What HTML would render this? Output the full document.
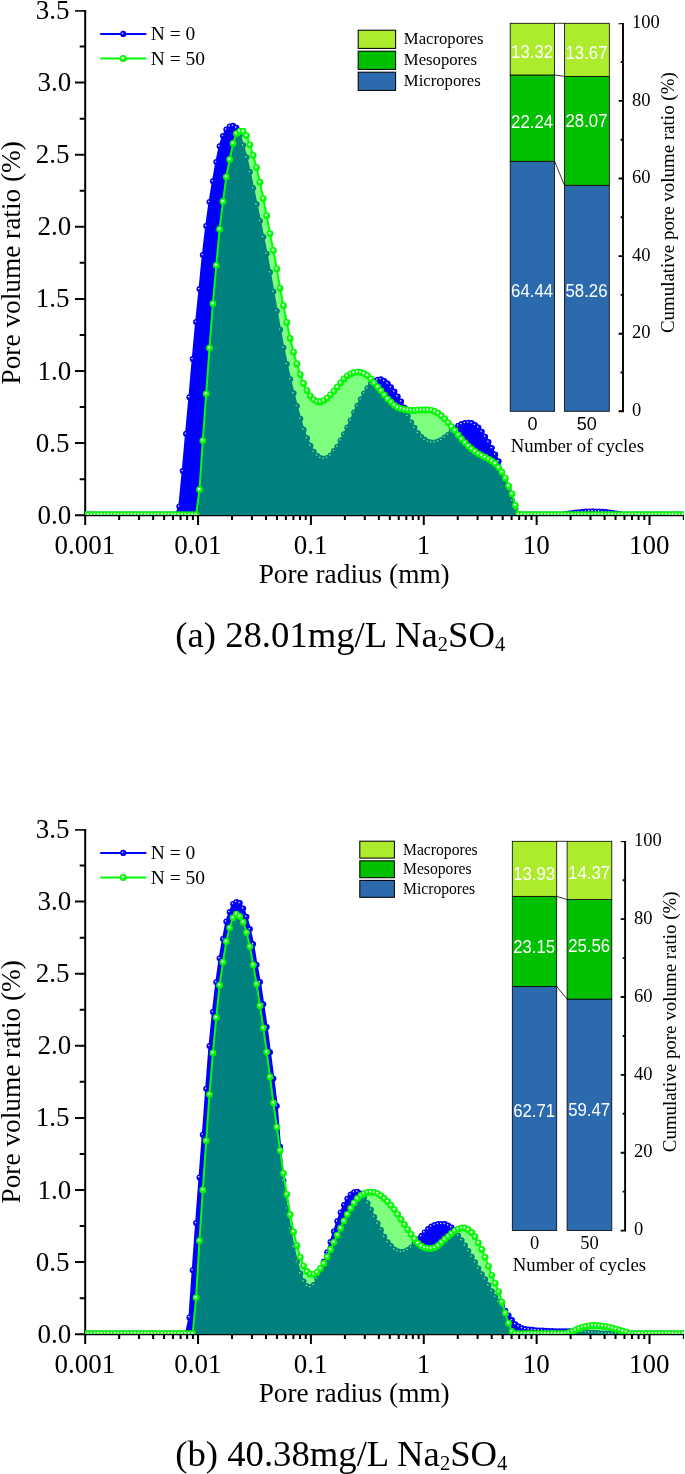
<!DOCTYPE html>
<html><head><meta charset="utf-8"><title>Pore volume ratio</title>
<style>
html,body{margin:0;padding:0;background:#fff;}
body{width:685px;height:1474px;overflow:hidden;font-family:"Liberation Serif",serif;}
svg{display:block;will-change:transform;}
</style></head><body>
<svg width="685" height="1474" viewBox="0 0 685 1474">
<defs>
<radialGradient id="gb" cx="0.5" cy="0.5" r="0.5" fx="0.35" fy="0.37">
<stop offset="0" stop-color="#ffffff"/><stop offset="0.1" stop-color="#d4d4ff"/><stop offset="0.32" stop-color="#2626ff"/><stop offset="0.46" stop-color="#0000ff"/><stop offset="1" stop-color="#0000f0"/>
</radialGradient>
<radialGradient id="gg" cx="0.5" cy="0.5" r="0.5" fx="0.41" fy="0.37">
<stop offset="0" stop-color="#ffffff"/><stop offset="0.18" stop-color="#eaffea"/><stop offset="0.44" stop-color="#38ff38"/><stop offset="0.6" stop-color="#00ff00"/><stop offset="1" stop-color="#00f200"/>
</radialGradient>
<clipPath id="clip0"><rect x="85" y="0" width="598.6" height="515.05"/></clipPath>
<clipPath id="clip1"><rect x="85" y="819" width="598.6" height="515.05"/></clipPath>
</defs>
<rect width="685" height="1474" fill="#fff"/>

<!-- chart a -->
<g stroke="#000" stroke-width="2.0" fill="none" stroke-linecap="butt">
<path d="M85.2 10.1 V515.2 H683.9"/>
<path d="M85.2 10.9h-10.2" stroke-width="1.6"/>
<path d="M683.4 515.2v4.8" stroke-width="1.1"/>
<path d="M85.2 515.20h-10.2M85.2 479.15h-5.5M85.2 443.10h-10.2M85.2 407.05h-5.5M85.2 371.00h-10.2M85.2 334.95h-5.5M85.2 298.90h-10.2M85.2 262.85h-5.5M85.2 226.80h-10.2M85.2 190.75h-5.5M85.2 154.70h-10.2M85.2 118.65h-5.5M85.2 82.60h-10.2M85.2 46.55h-5.5M85.20 515.2v9.7M119.17 515.2v4.8M139.05 515.2v4.8M153.15 515.2v4.8M164.09 515.2v4.8M173.02 515.2v4.8M180.58 515.2v4.8M187.12 515.2v4.8M192.90 515.2v4.8M198.06 515.2v9.7M232.03 515.2v4.8M251.91 515.2v4.8M266.01 515.2v4.8M276.95 515.2v4.8M285.88 515.2v4.8M293.44 515.2v4.8M299.98 515.2v4.8M305.76 515.2v4.8M310.92 515.2v9.7M344.89 515.2v4.8M364.77 515.2v4.8M378.87 515.2v4.8M389.81 515.2v4.8M398.74 515.2v4.8M406.30 515.2v4.8M412.84 515.2v4.8M418.62 515.2v4.8M423.78 515.2v9.7M457.75 515.2v4.8M477.63 515.2v4.8M491.73 515.2v4.8M502.67 515.2v4.8M511.60 515.2v4.8M519.16 515.2v4.8M525.70 515.2v4.8M531.48 515.2v4.8M536.64 515.2v9.7M570.61 515.2v4.8M590.49 515.2v4.8M604.59 515.2v4.8M615.53 515.2v4.8M624.46 515.2v4.8M632.02 515.2v4.8M638.56 515.2v4.8M644.34 515.2v4.8M649.50 515.2v9.7"/>
</g>
<g font-family="Liberation Serif, serif" font-size="27" fill="#000">
<text x="71.2" y="523.7" text-anchor="end">0.0</text>
<text x="69.5" y="451.6" text-anchor="end">0.5</text>
<text x="71.2" y="379.5" text-anchor="end">1.0</text>
<text x="69.5" y="307.4" text-anchor="end">1.5</text>
<text x="71.2" y="235.3" text-anchor="end">2.0</text>
<text x="69.5" y="163.2" text-anchor="end">2.5</text>
<text x="71.2" y="91.1" text-anchor="end">3.0</text>
<text x="69.5" y="19" text-anchor="end">3.5</text>
<text x="84.9" y="554" text-anchor="middle">0.001</text>
<text x="197.8" y="554" text-anchor="middle">0.01</text>
<text x="310.6" y="554" text-anchor="middle">0.1</text>
<text x="423.5" y="554" text-anchor="middle">1</text>
<text x="536.3" y="554" text-anchor="middle">10</text>
<text x="649.2" y="554" text-anchor="middle">100</text>
</g>
<g font-family="Liberation Serif, serif" font-size="27" fill="#000">
<text x="354.2" y="582.6" text-anchor="middle" font-size="27.3">Pore radius (mm)</text>
<text transform="translate(19.6 262.8) rotate(-90)" text-anchor="middle" font-size="27.3">Pore volume ratio (%)</text>
</g>
<g clip-path="url(#clip0)">
<polygon points="85.2,515.2 85.2,514.6 88.6,514.6 91.9,514.6 95.3,514.6 98.6,514.6 102,514.6 105.4,514.6 108.7,514.6 112.1,514.6 115.4,514.6 118.8,514.6 122.2,514.6 125.5,514.6 128.9,514.6 132.2,514.6 135.6,514.6 139,514.6 142.3,514.6 145.7,514.6 149.1,514.6 152.4,514.6 155.8,514.6 159.1,514.6 162.5,514.6 165.9,514.6 169.2,514.6 172.6,514.6 175.9,514.6 179.3,506.6 182.7,471 186,433.8 189.4,397.3 192.7,359.1 196.1,322 199.5,289.1 202.8,255.1 206.2,226 209.5,202 212.9,181.3 216.3,162.1 219.6,146.3 223,135.9 226.3,129.6 229.7,126.4 233.1,125.8 236.4,127.7 239.8,135.5 243.2,145.3 246.5,157.3 249.9,172.1 253.2,188.2 256.6,204.3 260,220.9 263.3,237.1 266.7,253.7 270,272.3 273.4,291.8 276.8,310.9 280.1,329.8 283.5,347.7 286.8,364 290.2,379.2 293.6,393.3 296.9,406.1 300.3,418.8 303.6,429.7 307,438.3 310.4,445.7 313.7,451.8 317.1,455.7 320.4,457.9 323.8,458.8 327.2,457.9 330.5,455.5 333.9,450.9 337.3,446.7 340.6,440.4 344,434.2 347.3,427.5 350.7,420.5 354.1,412.5 357.4,405.8 360.8,399.3 364.1,393.4 367.5,388.3 370.9,384 374.2,381.3 377.6,379.7 380.9,379.3 384.3,380.9 387.7,383.6 391,387.3 394.4,391.6 397.7,396.4 401.1,401.5 404.5,407.7 407.8,416.1 411.2,422.4 414.5,427.8 417.9,433.2 421.3,437.1 424.6,439.8 428,441.7 431.3,442.5 434.7,442.4 438.1,441.6 441.4,440 444.8,437.6 448.2,434.9 451.5,431.8 454.9,428.6 458.2,425.7 461.6,424 465,423.1 468.3,422.7 471.7,423.1 475,425 478.4,427.6 481.8,431.7 485.1,436.7 488.5,441.9 491.8,448.1 495.2,454.5 498.6,461.3 501.9,472.6 505.3,479.4 508.6,490.1 512,500.6 515.4,509.4 518.7,514.6 522.1,514.6 525.4,514.6 528.8,514.6 532.2,514.6 535.5,514.6 538.9,514.6 542.3,514.6 545.6,514.6 549,514.6 552.3,514.6 555.7,514.6 559.1,514.6 562.4,514.6 565.8,514.1 569.1,513.6 572.5,513.1 575.9,512.6 579.2,512.2 582.6,511.8 585.9,511.6 589.3,511.4 592.7,511.3 596,511.4 599.4,511.5 602.7,511.8 606.1,512.1 609.5,512.5 612.8,513 616.2,513.5 619.5,514 622.9,514.6 626.3,514.6 629.6,514.6 633,514.6 636.4,514.6 639.7,514.6 643.1,514.6 646.4,514.6 649.8,514.6 653.2,514.6 656.5,514.6 659.9,514.6 663.2,514.6 666.6,514.6 670,514.6 673.3,514.6 676.7,514.6 680,514.6 683.4,514.6 683.4,515.2" fill="#0000ff" fill-opacity="1"/>
<polyline points="85.2,514.6 88.6,514.6 91.9,514.6 95.3,514.6 98.6,514.6 102,514.6 105.4,514.6 108.7,514.6 112.1,514.6 115.4,514.6 118.8,514.6 122.2,514.6 125.5,514.6 128.9,514.6 132.2,514.6 135.6,514.6 139,514.6 142.3,514.6 145.7,514.6 149.1,514.6 152.4,514.6 155.8,514.6 159.1,514.6 162.5,514.6 165.9,514.6 169.2,514.6 172.6,514.6 175.9,514.6 179.3,506.6 182.7,471 186,433.8 189.4,397.3 192.7,359.1 196.1,322 199.5,289.1 202.8,255.1 206.2,226 209.5,202 212.9,181.3 216.3,162.1 219.6,146.3 223,135.9 226.3,129.6 229.7,126.4 233.1,125.8 236.4,127.7 239.8,135.5 243.2,145.3 246.5,157.3 249.9,172.1 253.2,188.2 256.6,204.3 260,220.9 263.3,237.1 266.7,253.7 270,272.3 273.4,291.8 276.8,310.9 280.1,329.8 283.5,347.7 286.8,364 290.2,379.2 293.6,393.3 296.9,406.1 300.3,418.8 303.6,429.7 307,438.3 310.4,445.7 313.7,451.8 317.1,455.7 320.4,457.9 323.8,458.8 327.2,457.9 330.5,455.5 333.9,450.9 337.3,446.7 340.6,440.4 344,434.2 347.3,427.5 350.7,420.5 354.1,412.5 357.4,405.8 360.8,399.3 364.1,393.4 367.5,388.3 370.9,384 374.2,381.3 377.6,379.7 380.9,379.3 384.3,380.9 387.7,383.6 391,387.3 394.4,391.6 397.7,396.4 401.1,401.5 404.5,407.7 407.8,416.1 411.2,422.4 414.5,427.8 417.9,433.2 421.3,437.1 424.6,439.8 428,441.7 431.3,442.5 434.7,442.4 438.1,441.6 441.4,440 444.8,437.6 448.2,434.9 451.5,431.8 454.9,428.6 458.2,425.7 461.6,424 465,423.1 468.3,422.7 471.7,423.1 475,425 478.4,427.6 481.8,431.7 485.1,436.7 488.5,441.9 491.8,448.1 495.2,454.5 498.6,461.3 501.9,472.6 505.3,479.4 508.6,490.1 512,500.6 515.4,509.4 518.7,514.6 522.1,514.6 525.4,514.6 528.8,514.6 532.2,514.6 535.5,514.6 538.9,514.6 542.3,514.6 545.6,514.6 549,514.6 552.3,514.6 555.7,514.6 559.1,514.6 562.4,514.6 565.8,514.1 569.1,513.6 572.5,513.1 575.9,512.6 579.2,512.2 582.6,511.8 585.9,511.6 589.3,511.4 592.7,511.3 596,511.4 599.4,511.5 602.7,511.8 606.1,512.1 609.5,512.5 612.8,513 616.2,513.5 619.5,514 622.9,514.6 626.3,514.6 629.6,514.6 633,514.6 636.4,514.6 639.7,514.6 643.1,514.6 646.4,514.6 649.8,514.6 653.2,514.6 656.5,514.6 659.9,514.6 663.2,514.6 666.6,514.6 670,514.6 673.3,514.6 676.7,514.6 680,514.6 683.4,514.6" fill="none" stroke="#0000ff" stroke-width="2.0" stroke-linejoin="round"/>
<g fill="url(#gb)">
<circle cx="85.2" cy="514.6" r="3.0"/><circle cx="88.6" cy="514.6" r="3.0"/><circle cx="91.9" cy="514.6" r="3.0"/><circle cx="95.3" cy="514.6" r="3.0"/><circle cx="98.6" cy="514.6" r="3.0"/><circle cx="102" cy="514.6" r="3.0"/><circle cx="105.4" cy="514.6" r="3.0"/><circle cx="108.7" cy="514.6" r="3.0"/><circle cx="112.1" cy="514.6" r="3.0"/><circle cx="115.4" cy="514.6" r="3.0"/><circle cx="118.8" cy="514.6" r="3.0"/><circle cx="122.2" cy="514.6" r="3.0"/><circle cx="125.5" cy="514.6" r="3.0"/><circle cx="128.9" cy="514.6" r="3.0"/><circle cx="132.2" cy="514.6" r="3.0"/><circle cx="135.6" cy="514.6" r="3.0"/><circle cx="139" cy="514.6" r="3.0"/><circle cx="142.3" cy="514.6" r="3.0"/><circle cx="145.7" cy="514.6" r="3.0"/><circle cx="149.1" cy="514.6" r="3.0"/><circle cx="152.4" cy="514.6" r="3.0"/><circle cx="155.8" cy="514.6" r="3.0"/><circle cx="159.1" cy="514.6" r="3.0"/><circle cx="162.5" cy="514.6" r="3.0"/><circle cx="165.9" cy="514.6" r="3.0"/><circle cx="169.2" cy="514.6" r="3.0"/><circle cx="172.6" cy="514.6" r="3.0"/><circle cx="175.9" cy="514.6" r="3.0"/><circle cx="179.3" cy="506.6" r="3.0"/><circle cx="182.7" cy="471" r="3.0"/><circle cx="186" cy="433.8" r="3.0"/><circle cx="189.4" cy="397.3" r="3.0"/><circle cx="192.7" cy="359.1" r="3.0"/><circle cx="196.1" cy="322" r="3.0"/><circle cx="199.5" cy="289.1" r="3.0"/><circle cx="202.8" cy="255.1" r="3.0"/><circle cx="206.2" cy="226" r="3.0"/><circle cx="209.5" cy="202" r="3.0"/><circle cx="212.9" cy="181.3" r="3.0"/><circle cx="216.3" cy="162.1" r="3.0"/><circle cx="219.6" cy="146.3" r="3.0"/><circle cx="223" cy="135.9" r="3.0"/><circle cx="226.3" cy="129.6" r="3.0"/><circle cx="229.7" cy="126.4" r="3.0"/><circle cx="233.1" cy="125.8" r="3.0"/><circle cx="236.4" cy="127.7" r="3.0"/><circle cx="239.8" cy="135.5" r="3.0"/><circle cx="243.2" cy="145.3" r="3.0"/><circle cx="246.5" cy="157.3" r="3.0"/><circle cx="249.9" cy="172.1" r="3.0"/><circle cx="253.2" cy="188.2" r="3.0"/><circle cx="256.6" cy="204.3" r="3.0"/><circle cx="260" cy="220.9" r="3.0"/><circle cx="263.3" cy="237.1" r="3.0"/><circle cx="266.7" cy="253.7" r="3.0"/><circle cx="270" cy="272.3" r="3.0"/><circle cx="273.4" cy="291.8" r="3.0"/><circle cx="276.8" cy="310.9" r="3.0"/><circle cx="280.1" cy="329.8" r="3.0"/><circle cx="283.5" cy="347.7" r="3.0"/><circle cx="286.8" cy="364" r="3.0"/><circle cx="290.2" cy="379.2" r="3.0"/><circle cx="293.6" cy="393.3" r="3.0"/><circle cx="296.9" cy="406.1" r="3.0"/><circle cx="300.3" cy="418.8" r="3.0"/><circle cx="303.6" cy="429.7" r="3.0"/><circle cx="307" cy="438.3" r="3.0"/><circle cx="310.4" cy="445.7" r="3.0"/><circle cx="313.7" cy="451.8" r="3.0"/><circle cx="317.1" cy="455.7" r="3.0"/><circle cx="320.4" cy="457.9" r="3.0"/><circle cx="323.8" cy="458.8" r="3.0"/><circle cx="327.2" cy="457.9" r="3.0"/><circle cx="330.5" cy="455.5" r="3.0"/><circle cx="333.9" cy="450.9" r="3.0"/><circle cx="337.3" cy="446.7" r="3.0"/><circle cx="340.6" cy="440.4" r="3.0"/><circle cx="344" cy="434.2" r="3.0"/><circle cx="347.3" cy="427.5" r="3.0"/><circle cx="350.7" cy="420.5" r="3.0"/><circle cx="354.1" cy="412.5" r="3.0"/><circle cx="357.4" cy="405.8" r="3.0"/><circle cx="360.8" cy="399.3" r="3.0"/><circle cx="364.1" cy="393.4" r="3.0"/><circle cx="367.5" cy="388.3" r="3.0"/><circle cx="370.9" cy="384" r="3.0"/><circle cx="374.2" cy="381.3" r="3.0"/><circle cx="377.6" cy="379.7" r="3.0"/><circle cx="380.9" cy="379.3" r="3.0"/><circle cx="384.3" cy="380.9" r="3.0"/><circle cx="387.7" cy="383.6" r="3.0"/><circle cx="391" cy="387.3" r="3.0"/><circle cx="394.4" cy="391.6" r="3.0"/><circle cx="397.7" cy="396.4" r="3.0"/><circle cx="401.1" cy="401.5" r="3.0"/><circle cx="404.5" cy="407.7" r="3.0"/><circle cx="407.8" cy="416.1" r="3.0"/><circle cx="411.2" cy="422.4" r="3.0"/><circle cx="414.5" cy="427.8" r="3.0"/><circle cx="417.9" cy="433.2" r="3.0"/><circle cx="421.3" cy="437.1" r="3.0"/><circle cx="424.6" cy="439.8" r="3.0"/><circle cx="428" cy="441.7" r="3.0"/><circle cx="431.3" cy="442.5" r="3.0"/><circle cx="434.7" cy="442.4" r="3.0"/><circle cx="438.1" cy="441.6" r="3.0"/><circle cx="441.4" cy="440" r="3.0"/><circle cx="444.8" cy="437.6" r="3.0"/><circle cx="448.2" cy="434.9" r="3.0"/><circle cx="451.5" cy="431.8" r="3.0"/><circle cx="454.9" cy="428.6" r="3.0"/><circle cx="458.2" cy="425.7" r="3.0"/><circle cx="461.6" cy="424" r="3.0"/><circle cx="465" cy="423.1" r="3.0"/><circle cx="468.3" cy="422.7" r="3.0"/><circle cx="471.7" cy="423.1" r="3.0"/><circle cx="475" cy="425" r="3.0"/><circle cx="478.4" cy="427.6" r="3.0"/><circle cx="481.8" cy="431.7" r="3.0"/><circle cx="485.1" cy="436.7" r="3.0"/><circle cx="488.5" cy="441.9" r="3.0"/><circle cx="491.8" cy="448.1" r="3.0"/><circle cx="495.2" cy="454.5" r="3.0"/><circle cx="498.6" cy="461.3" r="3.0"/><circle cx="501.9" cy="472.6" r="3.0"/><circle cx="505.3" cy="479.4" r="3.0"/><circle cx="508.6" cy="490.1" r="3.0"/><circle cx="512" cy="500.6" r="3.0"/><circle cx="515.4" cy="509.4" r="3.0"/><circle cx="518.7" cy="514.6" r="3.0"/><circle cx="522.1" cy="514.6" r="3.0"/><circle cx="525.4" cy="514.6" r="3.0"/><circle cx="528.8" cy="514.6" r="3.0"/><circle cx="532.2" cy="514.6" r="3.0"/><circle cx="535.5" cy="514.6" r="3.0"/><circle cx="538.9" cy="514.6" r="3.0"/><circle cx="542.3" cy="514.6" r="3.0"/><circle cx="545.6" cy="514.6" r="3.0"/><circle cx="549" cy="514.6" r="3.0"/><circle cx="552.3" cy="514.6" r="3.0"/><circle cx="555.7" cy="514.6" r="3.0"/><circle cx="559.1" cy="514.6" r="3.0"/><circle cx="562.4" cy="514.6" r="3.0"/><circle cx="565.8" cy="514.1" r="3.0"/><circle cx="569.1" cy="513.6" r="3.0"/><circle cx="572.5" cy="513.1" r="3.0"/><circle cx="575.9" cy="512.6" r="3.0"/><circle cx="579.2" cy="512.2" r="3.0"/><circle cx="582.6" cy="511.8" r="3.0"/><circle cx="585.9" cy="511.6" r="3.0"/><circle cx="589.3" cy="511.4" r="3.0"/><circle cx="592.7" cy="511.3" r="3.0"/><circle cx="596" cy="511.4" r="3.0"/><circle cx="599.4" cy="511.5" r="3.0"/><circle cx="602.7" cy="511.8" r="3.0"/><circle cx="606.1" cy="512.1" r="3.0"/><circle cx="609.5" cy="512.5" r="3.0"/><circle cx="612.8" cy="513" r="3.0"/><circle cx="616.2" cy="513.5" r="3.0"/><circle cx="619.5" cy="514" r="3.0"/><circle cx="622.9" cy="514.6" r="3.0"/><circle cx="626.3" cy="514.6" r="3.0"/><circle cx="629.6" cy="514.6" r="3.0"/><circle cx="633" cy="514.6" r="3.0"/><circle cx="636.4" cy="514.6" r="3.0"/><circle cx="639.7" cy="514.6" r="3.0"/><circle cx="643.1" cy="514.6" r="3.0"/><circle cx="646.4" cy="514.6" r="3.0"/><circle cx="649.8" cy="514.6" r="3.0"/><circle cx="653.2" cy="514.6" r="3.0"/><circle cx="656.5" cy="514.6" r="3.0"/><circle cx="659.9" cy="514.6" r="3.0"/><circle cx="663.2" cy="514.6" r="3.0"/><circle cx="666.6" cy="514.6" r="3.0"/><circle cx="670" cy="514.6" r="3.0"/><circle cx="673.3" cy="514.6" r="3.0"/><circle cx="676.7" cy="514.6" r="3.0"/><circle cx="680" cy="514.6" r="3.0"/><circle cx="683.4" cy="514.6" r="3.0"/>
</g>
<polygon points="85.2,515.2 85.2,514.6 88.6,514.6 91.9,514.6 95.3,514.6 98.6,514.6 102,514.6 105.4,514.6 108.7,514.6 112.1,514.6 115.4,514.6 118.8,514.6 122.2,514.6 125.5,514.6 128.9,514.6 132.2,514.6 135.6,514.6 139,514.6 142.3,514.6 145.7,514.6 149.1,514.6 152.4,514.6 155.8,514.6 159.1,514.6 162.5,514.6 165.9,514.6 169.2,514.6 172.6,514.6 175.9,514.6 179.3,514.6 182.7,514.6 186,514.6 189.4,514.6 192.7,514.6 196.1,514.6 199.5,489.6 202.8,440.6 206.2,393.8 209.5,348 212.9,303.7 216.3,265.3 219.6,229.2 223,201.5 226.3,176.8 229.7,159.5 233.1,143.4 236.4,133.6 239.8,131.3 243.2,131.5 246.5,135.6 249.9,144.8 253.2,155.5 256.6,167.6 260,182.2 263.3,198.6 266.7,215.7 270,233.6 273.4,250.5 276.8,268.9 280.1,288.3 283.5,305.6 286.8,322.4 290.2,338.5 293.6,352.2 296.9,363.9 300.3,374.6 303.6,383.5 307,390.6 310.4,396.1 313.7,399.6 317.1,401.5 320.4,402 323.8,400.6 327.2,398.1 330.5,394.8 333.9,391.1 337.3,387.1 340.6,382.9 344,379 347.3,375.9 350.7,373.9 354.1,372.7 357.4,372.1 360.8,372.5 364.1,373.6 367.5,375.6 370.9,378.9 374.2,383 377.6,386.8 380.9,390.7 384.3,395 387.7,398.9 391,402.2 394.4,405.3 397.7,407.4 401.1,408.7 404.5,409.5 407.8,410.2 411.2,410.5 414.5,410.4 417.9,410.1 421.3,410 424.6,410 428,410 431.3,410.3 434.7,411.4 438.1,413.1 441.4,415.9 444.8,418.9 448.2,422.8 451.5,426.6 454.9,430.5 458.2,434.9 461.6,439 465,442.6 468.3,446.1 471.7,449 475,451.5 478.4,453.8 481.8,455.6 485.1,457.2 488.5,459.1 491.8,461 495.2,463.5 498.6,467.6 501.9,472.2 505.3,478.1 508.6,486 512,493.9 515.4,505.3 518.7,514.4 522.1,514.6 525.4,514.6 528.8,514.6 532.2,514.6 535.5,514.6 538.9,514.6 542.3,514.6 545.6,514.6 549,514.6 552.3,514.6 555.7,514.6 559.1,514.6 562.4,514.6 565.8,514.6 569.1,514.6 572.5,514.6 575.9,514.6 579.2,514.6 582.6,514.6 585.9,514.6 589.3,514.6 592.7,514.6 596,514.6 599.4,514.6 602.7,514.6 606.1,514.6 609.5,514.6 612.8,514.6 616.2,514.6 619.5,514.6 622.9,514.6 626.3,514.6 629.6,514.6 633,514.6 636.4,514.6 639.7,514.6 643.1,514.6 646.4,514.6 649.8,514.6 653.2,514.6 656.5,514.6 659.9,514.6 663.2,514.6 666.6,514.6 670,514.6 673.3,514.6 676.7,514.6 680,514.6 683.4,514.6 683.4,515.2" fill="#00ff00" fill-opacity="0.5"/>
<polyline points="85.2,514.6 88.6,514.6 91.9,514.6 95.3,514.6 98.6,514.6 102,514.6 105.4,514.6 108.7,514.6 112.1,514.6 115.4,514.6 118.8,514.6 122.2,514.6 125.5,514.6 128.9,514.6 132.2,514.6 135.6,514.6 139,514.6 142.3,514.6 145.7,514.6 149.1,514.6 152.4,514.6 155.8,514.6 159.1,514.6 162.5,514.6 165.9,514.6 169.2,514.6 172.6,514.6 175.9,514.6 179.3,514.6 182.7,514.6 186,514.6 189.4,514.6 192.7,514.6 196.1,514.6 199.5,489.6 202.8,440.6 206.2,393.8 209.5,348 212.9,303.7 216.3,265.3 219.6,229.2 223,201.5 226.3,176.8 229.7,159.5 233.1,143.4 236.4,133.6 239.8,131.3 243.2,131.5 246.5,135.6 249.9,144.8 253.2,155.5 256.6,167.6 260,182.2 263.3,198.6 266.7,215.7 270,233.6 273.4,250.5 276.8,268.9 280.1,288.3 283.5,305.6 286.8,322.4 290.2,338.5 293.6,352.2 296.9,363.9 300.3,374.6 303.6,383.5 307,390.6 310.4,396.1 313.7,399.6 317.1,401.5 320.4,402 323.8,400.6 327.2,398.1 330.5,394.8 333.9,391.1 337.3,387.1 340.6,382.9 344,379 347.3,375.9 350.7,373.9 354.1,372.7 357.4,372.1 360.8,372.5 364.1,373.6 367.5,375.6 370.9,378.9 374.2,383 377.6,386.8 380.9,390.7 384.3,395 387.7,398.9 391,402.2 394.4,405.3 397.7,407.4 401.1,408.7 404.5,409.5 407.8,410.2 411.2,410.5 414.5,410.4 417.9,410.1 421.3,410 424.6,410 428,410 431.3,410.3 434.7,411.4 438.1,413.1 441.4,415.9 444.8,418.9 448.2,422.8 451.5,426.6 454.9,430.5 458.2,434.9 461.6,439 465,442.6 468.3,446.1 471.7,449 475,451.5 478.4,453.8 481.8,455.6 485.1,457.2 488.5,459.1 491.8,461 495.2,463.5 498.6,467.6 501.9,472.2 505.3,478.1 508.6,486 512,493.9 515.4,505.3 518.7,514.4 522.1,514.6 525.4,514.6 528.8,514.6 532.2,514.6 535.5,514.6 538.9,514.6 542.3,514.6 545.6,514.6 549,514.6 552.3,514.6 555.7,514.6 559.1,514.6 562.4,514.6 565.8,514.6 569.1,514.6 572.5,514.6 575.9,514.6 579.2,514.6 582.6,514.6 585.9,514.6 589.3,514.6 592.7,514.6 596,514.6 599.4,514.6 602.7,514.6 606.1,514.6 609.5,514.6 612.8,514.6 616.2,514.6 619.5,514.6 622.9,514.6 626.3,514.6 629.6,514.6 633,514.6 636.4,514.6 639.7,514.6 643.1,514.6 646.4,514.6 649.8,514.6 653.2,514.6 656.5,514.6 659.9,514.6 663.2,514.6 666.6,514.6 670,514.6 673.3,514.6 676.7,514.6 680,514.6 683.4,514.6" fill="none" stroke="#00ff00" stroke-width="2.0" stroke-linejoin="round"/>
<g fill="url(#gg)">
<circle cx="85.2" cy="514.6" r="3.4"/><circle cx="88.6" cy="514.6" r="3.4"/><circle cx="91.9" cy="514.6" r="3.4"/><circle cx="95.3" cy="514.6" r="3.4"/><circle cx="98.6" cy="514.6" r="3.4"/><circle cx="102" cy="514.6" r="3.4"/><circle cx="105.4" cy="514.6" r="3.4"/><circle cx="108.7" cy="514.6" r="3.4"/><circle cx="112.1" cy="514.6" r="3.4"/><circle cx="115.4" cy="514.6" r="3.4"/><circle cx="118.8" cy="514.6" r="3.4"/><circle cx="122.2" cy="514.6" r="3.4"/><circle cx="125.5" cy="514.6" r="3.4"/><circle cx="128.9" cy="514.6" r="3.4"/><circle cx="132.2" cy="514.6" r="3.4"/><circle cx="135.6" cy="514.6" r="3.4"/><circle cx="139" cy="514.6" r="3.4"/><circle cx="142.3" cy="514.6" r="3.4"/><circle cx="145.7" cy="514.6" r="3.4"/><circle cx="149.1" cy="514.6" r="3.4"/><circle cx="152.4" cy="514.6" r="3.4"/><circle cx="155.8" cy="514.6" r="3.4"/><circle cx="159.1" cy="514.6" r="3.4"/><circle cx="162.5" cy="514.6" r="3.4"/><circle cx="165.9" cy="514.6" r="3.4"/><circle cx="169.2" cy="514.6" r="3.4"/><circle cx="172.6" cy="514.6" r="3.4"/><circle cx="175.9" cy="514.6" r="3.4"/><circle cx="179.3" cy="514.6" r="3.4"/><circle cx="182.7" cy="514.6" r="3.4"/><circle cx="186" cy="514.6" r="3.4"/><circle cx="189.4" cy="514.6" r="3.4"/><circle cx="192.7" cy="514.6" r="3.4"/><circle cx="196.1" cy="514.6" r="3.4"/><circle cx="199.5" cy="489.6" r="3.4"/><circle cx="202.8" cy="440.6" r="3.4"/><circle cx="206.2" cy="393.8" r="3.4"/><circle cx="209.5" cy="348" r="3.4"/><circle cx="212.9" cy="303.7" r="3.4"/><circle cx="216.3" cy="265.3" r="3.4"/><circle cx="219.6" cy="229.2" r="3.4"/><circle cx="223" cy="201.5" r="3.4"/><circle cx="226.3" cy="176.8" r="3.4"/><circle cx="229.7" cy="159.5" r="3.4"/><circle cx="233.1" cy="143.4" r="3.4"/><circle cx="236.4" cy="133.6" r="3.4"/><circle cx="239.8" cy="131.3" r="3.4"/><circle cx="243.2" cy="131.5" r="3.4"/><circle cx="246.5" cy="135.6" r="3.4"/><circle cx="249.9" cy="144.8" r="3.4"/><circle cx="253.2" cy="155.5" r="3.4"/><circle cx="256.6" cy="167.6" r="3.4"/><circle cx="260" cy="182.2" r="3.4"/><circle cx="263.3" cy="198.6" r="3.4"/><circle cx="266.7" cy="215.7" r="3.4"/><circle cx="270" cy="233.6" r="3.4"/><circle cx="273.4" cy="250.5" r="3.4"/><circle cx="276.8" cy="268.9" r="3.4"/><circle cx="280.1" cy="288.3" r="3.4"/><circle cx="283.5" cy="305.6" r="3.4"/><circle cx="286.8" cy="322.4" r="3.4"/><circle cx="290.2" cy="338.5" r="3.4"/><circle cx="293.6" cy="352.2" r="3.4"/><circle cx="296.9" cy="363.9" r="3.4"/><circle cx="300.3" cy="374.6" r="3.4"/><circle cx="303.6" cy="383.5" r="3.4"/><circle cx="307" cy="390.6" r="3.4"/><circle cx="310.4" cy="396.1" r="3.4"/><circle cx="313.7" cy="399.6" r="3.4"/><circle cx="317.1" cy="401.5" r="3.4"/><circle cx="320.4" cy="402" r="3.4"/><circle cx="323.8" cy="400.6" r="3.4"/><circle cx="327.2" cy="398.1" r="3.4"/><circle cx="330.5" cy="394.8" r="3.4"/><circle cx="333.9" cy="391.1" r="3.4"/><circle cx="337.3" cy="387.1" r="3.4"/><circle cx="340.6" cy="382.9" r="3.4"/><circle cx="344" cy="379" r="3.4"/><circle cx="347.3" cy="375.9" r="3.4"/><circle cx="350.7" cy="373.9" r="3.4"/><circle cx="354.1" cy="372.7" r="3.4"/><circle cx="357.4" cy="372.1" r="3.4"/><circle cx="360.8" cy="372.5" r="3.4"/><circle cx="364.1" cy="373.6" r="3.4"/><circle cx="367.5" cy="375.6" r="3.4"/><circle cx="370.9" cy="378.9" r="3.4"/><circle cx="374.2" cy="383" r="3.4"/><circle cx="377.6" cy="386.8" r="3.4"/><circle cx="380.9" cy="390.7" r="3.4"/><circle cx="384.3" cy="395" r="3.4"/><circle cx="387.7" cy="398.9" r="3.4"/><circle cx="391" cy="402.2" r="3.4"/><circle cx="394.4" cy="405.3" r="3.4"/><circle cx="397.7" cy="407.4" r="3.4"/><circle cx="401.1" cy="408.7" r="3.4"/><circle cx="404.5" cy="409.5" r="3.4"/><circle cx="407.8" cy="410.2" r="3.4"/><circle cx="411.2" cy="410.5" r="3.4"/><circle cx="414.5" cy="410.4" r="3.4"/><circle cx="417.9" cy="410.1" r="3.4"/><circle cx="421.3" cy="410" r="3.4"/><circle cx="424.6" cy="410" r="3.4"/><circle cx="428" cy="410" r="3.4"/><circle cx="431.3" cy="410.3" r="3.4"/><circle cx="434.7" cy="411.4" r="3.4"/><circle cx="438.1" cy="413.1" r="3.4"/><circle cx="441.4" cy="415.9" r="3.4"/><circle cx="444.8" cy="418.9" r="3.4"/><circle cx="448.2" cy="422.8" r="3.4"/><circle cx="451.5" cy="426.6" r="3.4"/><circle cx="454.9" cy="430.5" r="3.4"/><circle cx="458.2" cy="434.9" r="3.4"/><circle cx="461.6" cy="439" r="3.4"/><circle cx="465" cy="442.6" r="3.4"/><circle cx="468.3" cy="446.1" r="3.4"/><circle cx="471.7" cy="449" r="3.4"/><circle cx="475" cy="451.5" r="3.4"/><circle cx="478.4" cy="453.8" r="3.4"/><circle cx="481.8" cy="455.6" r="3.4"/><circle cx="485.1" cy="457.2" r="3.4"/><circle cx="488.5" cy="459.1" r="3.4"/><circle cx="491.8" cy="461" r="3.4"/><circle cx="495.2" cy="463.5" r="3.4"/><circle cx="498.6" cy="467.6" r="3.4"/><circle cx="501.9" cy="472.2" r="3.4"/><circle cx="505.3" cy="478.1" r="3.4"/><circle cx="508.6" cy="486" r="3.4"/><circle cx="512" cy="493.9" r="3.4"/><circle cx="515.4" cy="505.3" r="3.4"/><circle cx="518.7" cy="514.4" r="3.4"/><circle cx="522.1" cy="514.6" r="3.4"/><circle cx="525.4" cy="514.6" r="3.4"/><circle cx="528.8" cy="514.6" r="3.4"/><circle cx="532.2" cy="514.6" r="3.4"/><circle cx="535.5" cy="514.6" r="3.4"/><circle cx="538.9" cy="514.6" r="3.4"/><circle cx="542.3" cy="514.6" r="3.4"/><circle cx="545.6" cy="514.6" r="3.4"/><circle cx="549" cy="514.6" r="3.4"/><circle cx="552.3" cy="514.6" r="3.4"/><circle cx="555.7" cy="514.6" r="3.4"/><circle cx="559.1" cy="514.6" r="3.4"/><circle cx="562.4" cy="514.6" r="3.4"/><circle cx="565.8" cy="514.6" r="3.4"/><circle cx="569.1" cy="514.6" r="3.4"/><circle cx="572.5" cy="514.6" r="3.4"/><circle cx="575.9" cy="514.6" r="3.4"/><circle cx="579.2" cy="514.6" r="3.4"/><circle cx="582.6" cy="514.6" r="3.4"/><circle cx="585.9" cy="514.6" r="3.4"/><circle cx="589.3" cy="514.6" r="3.4"/><circle cx="592.7" cy="514.6" r="3.4"/><circle cx="596" cy="514.6" r="3.4"/><circle cx="599.4" cy="514.6" r="3.4"/><circle cx="602.7" cy="514.6" r="3.4"/><circle cx="606.1" cy="514.6" r="3.4"/><circle cx="609.5" cy="514.6" r="3.4"/><circle cx="612.8" cy="514.6" r="3.4"/><circle cx="616.2" cy="514.6" r="3.4"/><circle cx="619.5" cy="514.6" r="3.4"/><circle cx="622.9" cy="514.6" r="3.4"/><circle cx="626.3" cy="514.6" r="3.4"/><circle cx="629.6" cy="514.6" r="3.4"/><circle cx="633" cy="514.6" r="3.4"/><circle cx="636.4" cy="514.6" r="3.4"/><circle cx="639.7" cy="514.6" r="3.4"/><circle cx="643.1" cy="514.6" r="3.4"/><circle cx="646.4" cy="514.6" r="3.4"/><circle cx="649.8" cy="514.6" r="3.4"/><circle cx="653.2" cy="514.6" r="3.4"/><circle cx="656.5" cy="514.6" r="3.4"/><circle cx="659.9" cy="514.6" r="3.4"/><circle cx="663.2" cy="514.6" r="3.4"/><circle cx="666.6" cy="514.6" r="3.4"/><circle cx="670" cy="514.6" r="3.4"/><circle cx="673.3" cy="514.6" r="3.4"/><circle cx="676.7" cy="514.6" r="3.4"/><circle cx="680" cy="514.6" r="3.4"/><circle cx="683.4" cy="514.6" r="3.4"/>
</g>
</g>
<path d="M100.2 33.9 H146.4" stroke="#0000ff" stroke-width="2.0"/>
<circle cx="123.2" cy="33.9" r="3.0999999999999996" fill="url(#gb)"/>
<text x="150.7" y="40.3" font-family="Liberation Serif, serif" font-size="19.5">N = 0</text>
<path d="M100.2 58.5 H146.4" stroke="#00ff00" stroke-width="2.0"/>
<circle cx="123.2" cy="58.5" r="3.5" fill="url(#gg)"/>
<text x="150.7" y="64.9" font-family="Liberation Serif, serif" font-size="19.5">N = 50</text>
<rect x="358.2" y="30.2" width="37.4" height="18.2" fill="#adeb2d" stroke="#000" stroke-width="1.05"/>
<text x="403.8" y="44.4" font-family="Liberation Serif, serif" font-size="16.7">Macropores</text>
<rect x="358.2" y="51.2" width="37.4" height="18.2" fill="#00c000" stroke="#000" stroke-width="1.05"/>
<text x="403.8" y="65.4" font-family="Liberation Serif, serif" font-size="16.7">Mesopores</text>
<rect x="358.2" y="72.2" width="37.4" height="18.2" fill="#2b6aad" stroke="#000" stroke-width="1.05"/>
<text x="403.8" y="86.4" font-family="Liberation Serif, serif" font-size="16.7">Micropores</text>
<rect x="510.2" y="161.27" width="44.4" height="250.03" fill="#2b6aad" stroke="#000" stroke-width="0.8"/>
<rect x="510.2" y="74.98" width="44.4" height="86.29" fill="#00c000" stroke="#000" stroke-width="0.8"/>
<rect x="510.2" y="23.30" width="44.4" height="51.68" fill="#adeb2d" stroke="#000" stroke-width="0.8"/>
<rect x="564.4" y="185.25" width="44.9" height="226.05" fill="#2b6aad" stroke="#000" stroke-width="0.8"/>
<rect x="564.4" y="76.34" width="44.9" height="108.91" fill="#00c000" stroke="#000" stroke-width="0.8"/>
<rect x="564.4" y="23.30" width="44.9" height="53.04" fill="#adeb2d" stroke="#000" stroke-width="0.8"/>
<path d="M554.6 161.27 L564.4 185.25" stroke="#000" stroke-width="0.8" fill="none"/>
<path d="M554.6 74.98 L564.4 76.34" stroke="#000" stroke-width="0.8" fill="none"/>
<path d="M554.6 23.30 L564.4 23.30" stroke="#000" stroke-width="0.8" fill="none"/>
<g font-family="Liberation Sans, sans-serif" font-size="18" fill="#fff" text-anchor="middle">
<text x="532.1" y="296.7" textLength="42" lengthAdjust="spacingAndGlyphs">64.44</text>
<text x="532.1" y="127.5" textLength="42" lengthAdjust="spacingAndGlyphs">22.24</text>
<text x="532.1" y="57.8" textLength="42" lengthAdjust="spacingAndGlyphs">13.32</text>
<text x="586.5" y="296.7" textLength="42" lengthAdjust="spacingAndGlyphs">58.26</text>
<text x="586.5" y="126.6" textLength="42" lengthAdjust="spacingAndGlyphs">28.07</text>
<text x="586.5" y="58.7" textLength="42" lengthAdjust="spacingAndGlyphs">13.67</text>
</g>
<g stroke="#000" stroke-width="1.9" fill="none">
<path d="M623 23.7h-4.4" stroke-width="1.1"/>
<path d="M623 23.1 V412.2M623 411.30h-4.4M623 372.50h-2.4M623 333.70h-4.4M623 294.90h-2.4M623 256.10h-4.4M623 217.30h-2.4M623 178.50h-4.4M623 139.70h-2.4M623 100.90h-4.4M623 62.10h-2.4"/>
</g>
<g font-family="Liberation Serif, serif" font-size="18.5" fill="#000">
<text x="631.9" y="415.9">0</text>
<text x="631.9" y="338.3">20</text>
<text x="631.9" y="260.7">40</text>
<text x="631.9" y="183.1">60</text>
<text x="631.9" y="105.5">80</text>
<text x="631.9" y="27.9">100</text>
</g>
<g font-family="Liberation Sans, sans-serif" font-size="18" fill="#000" text-anchor="middle">
<text x="532.4" y="429.5">0</text>
<text x="586.8" y="429.5">50</text>
</g>
<text x="577.3" y="451.8" font-family="Liberation Serif, serif" font-size="18.75" text-anchor="middle">Number of cycles</text>
<text transform="translate(673.9 202.7) rotate(-90)" font-family="Liberation Serif, serif" font-size="18.95" text-anchor="middle">Cumulative pore volume ratio (%)</text>
<text x="175.3" y="646.9" font-family="Liberation Serif, serif" font-size="36.7" fill="#000">(a) 28.01mg/L Na<tspan font-size="20.5" dy="3.8">2</tspan><tspan dy="-3.8">SO</tspan><tspan font-size="20.5" dy="3.8">4</tspan></text>

<!-- chart b -->
<g stroke="#000" stroke-width="2.0" fill="none" stroke-linecap="butt">
<path d="M85.2 829.1 V1334.2 H683.9"/>
<path d="M85.2 829.9h-10.2" stroke-width="1.6"/>
<path d="M683.4 1334.2v4.8" stroke-width="1.1"/>
<path d="M85.2 1334.20h-10.2M85.2 1298.15h-5.5M85.2 1262.10h-10.2M85.2 1226.05h-5.5M85.2 1190.00h-10.2M85.2 1153.95h-5.5M85.2 1117.90h-10.2M85.2 1081.85h-5.5M85.2 1045.80h-10.2M85.2 1009.75h-5.5M85.2 973.70h-10.2M85.2 937.65h-5.5M85.2 901.60h-10.2M85.2 865.55h-5.5M85.20 1334.2v9.7M119.17 1334.2v4.8M139.05 1334.2v4.8M153.15 1334.2v4.8M164.09 1334.2v4.8M173.02 1334.2v4.8M180.58 1334.2v4.8M187.12 1334.2v4.8M192.90 1334.2v4.8M198.06 1334.2v9.7M232.03 1334.2v4.8M251.91 1334.2v4.8M266.01 1334.2v4.8M276.95 1334.2v4.8M285.88 1334.2v4.8M293.44 1334.2v4.8M299.98 1334.2v4.8M305.76 1334.2v4.8M310.92 1334.2v9.7M344.89 1334.2v4.8M364.77 1334.2v4.8M378.87 1334.2v4.8M389.81 1334.2v4.8M398.74 1334.2v4.8M406.30 1334.2v4.8M412.84 1334.2v4.8M418.62 1334.2v4.8M423.78 1334.2v9.7M457.75 1334.2v4.8M477.63 1334.2v4.8M491.73 1334.2v4.8M502.67 1334.2v4.8M511.60 1334.2v4.8M519.16 1334.2v4.8M525.70 1334.2v4.8M531.48 1334.2v4.8M536.64 1334.2v9.7M570.61 1334.2v4.8M590.49 1334.2v4.8M604.59 1334.2v4.8M615.53 1334.2v4.8M624.46 1334.2v4.8M632.02 1334.2v4.8M638.56 1334.2v4.8M644.34 1334.2v4.8M649.50 1334.2v9.7"/>
</g>
<g font-family="Liberation Serif, serif" font-size="27" fill="#000">
<text x="71.2" y="1342.7" text-anchor="end">0.0</text>
<text x="69.5" y="1270.6" text-anchor="end">0.5</text>
<text x="71.2" y="1198.5" text-anchor="end">1.0</text>
<text x="69.5" y="1126.4" text-anchor="end">1.5</text>
<text x="71.2" y="1054.3" text-anchor="end">2.0</text>
<text x="69.5" y="982.2" text-anchor="end">2.5</text>
<text x="71.2" y="910.1" text-anchor="end">3.0</text>
<text x="69.5" y="838" text-anchor="end">3.5</text>
<text x="84.9" y="1373" text-anchor="middle">0.001</text>
<text x="197.8" y="1373" text-anchor="middle">0.01</text>
<text x="310.6" y="1373" text-anchor="middle">0.1</text>
<text x="423.5" y="1373" text-anchor="middle">1</text>
<text x="536.3" y="1373" text-anchor="middle">10</text>
<text x="649.2" y="1373" text-anchor="middle">100</text>
</g>
<g font-family="Liberation Serif, serif" font-size="27" fill="#000">
<text x="354.2" y="1401.6" text-anchor="middle" font-size="27.3">Pore radius (mm)</text>
<text transform="translate(19.6 1081.8) rotate(-90)" text-anchor="middle" font-size="27.3">Pore volume ratio (%)</text>
</g>
<g clip-path="url(#clip1)">
<polygon points="85.2,1334.2 85.2,1333.6 88.6,1333.6 91.9,1333.6 95.3,1333.6 98.6,1333.6 102,1333.6 105.4,1333.6 108.7,1333.6 112.1,1333.6 115.4,1333.6 118.8,1333.6 122.2,1333.6 125.5,1333.6 128.9,1333.6 132.2,1333.6 135.6,1333.6 139,1333.6 142.3,1333.6 145.7,1333.6 149.1,1333.6 152.4,1333.6 155.8,1333.6 159.1,1333.6 162.5,1333.6 165.9,1333.6 169.2,1333.6 172.6,1333.6 175.9,1333.6 179.3,1333.6 182.7,1333.6 186,1333.6 189.4,1317.4 192.7,1270.3 196.1,1223 199.5,1177.4 202.8,1134.7 206.2,1088.8 209.5,1045.9 212.9,1012 216.3,982.2 219.6,958.2 223,938.9 226.3,921.6 229.7,911.9 233.1,903.9 236.4,901.9 239.8,903.1 243.2,908.4 246.5,916.7 249.9,929.1 253.2,944.1 256.6,964.8 260,982.1 263.3,1004.2 266.7,1027.1 270,1052.3 273.4,1078.5 276.8,1105.9 280.1,1146.7 283.5,1180.7 286.8,1208.6 290.2,1228.9 293.6,1246.8 296.9,1261.7 300.3,1273.4 303.6,1281.4 307,1286.2 310.4,1287.3 313.7,1285 317.1,1278.8 320.4,1270.5 323.8,1261.7 327.2,1252.2 330.5,1242 333.9,1231.6 337.3,1221.3 340.6,1212.5 344,1205 347.3,1198.8 350.7,1194.6 354.1,1192.3 357.4,1191.7 360.8,1193.6 364.1,1197.5 367.5,1203.2 370.9,1209.7 374.2,1216.9 377.6,1223.5 380.9,1229.9 384.3,1236.8 387.7,1242.2 391,1245.9 394.4,1249.5 397.7,1251.2 401.1,1252 404.5,1251.5 407.8,1250 411.2,1247.4 414.5,1243.6 417.9,1239.6 421.3,1236.1 424.6,1232.4 428,1229.1 431.3,1226.6 434.7,1224.9 438.1,1224.1 441.4,1223.9 444.8,1224.1 448.2,1225.4 451.5,1227.4 454.9,1230.5 458.2,1235.7 461.6,1240.3 465,1245.6 468.3,1251.1 471.7,1256.7 475,1262.3 478.4,1268.4 481.8,1274.2 485.1,1279.2 488.5,1285.3 491.8,1291.2 495.2,1296.9 498.6,1301.7 501.9,1306.1 505.3,1310.7 508.6,1315.4 512,1320.1 515.4,1324.2 518.7,1326.4 522.1,1328.3 525.4,1329.1 528.8,1329.5 532.2,1329.8 535.5,1330.2 538.9,1330.4 542.3,1330.6 545.6,1330.8 549,1331 552.3,1331.1 555.7,1331.2 559.1,1331.3 562.4,1331.3 565.8,1331.3 569.1,1331.3 572.5,1331.3 575.9,1331.4 579.2,1331.6 582.6,1331.9 585.9,1332.2 589.3,1332.5 592.7,1332.7 596,1333 599.4,1333.2 602.7,1333.4 606.1,1333.6 609.5,1333.6 612.8,1333.6 616.2,1333.6 619.5,1333.6 622.9,1333.6 626.3,1333.6 629.6,1333.6 633,1333.6 636.4,1333.6 639.7,1333.6 643.1,1333.6 646.4,1333.6 649.8,1333.6 653.2,1333.6 656.5,1333.6 659.9,1333.6 663.2,1333.6 666.6,1333.6 670,1333.6 673.3,1333.6 676.7,1333.6 680,1333.6 683.4,1333.6 683.4,1334.2" fill="#0000ff" fill-opacity="1"/>
<polyline points="85.2,1333.6 88.6,1333.6 91.9,1333.6 95.3,1333.6 98.6,1333.6 102,1333.6 105.4,1333.6 108.7,1333.6 112.1,1333.6 115.4,1333.6 118.8,1333.6 122.2,1333.6 125.5,1333.6 128.9,1333.6 132.2,1333.6 135.6,1333.6 139,1333.6 142.3,1333.6 145.7,1333.6 149.1,1333.6 152.4,1333.6 155.8,1333.6 159.1,1333.6 162.5,1333.6 165.9,1333.6 169.2,1333.6 172.6,1333.6 175.9,1333.6 179.3,1333.6 182.7,1333.6 186,1333.6 189.4,1317.4 192.7,1270.3 196.1,1223 199.5,1177.4 202.8,1134.7 206.2,1088.8 209.5,1045.9 212.9,1012 216.3,982.2 219.6,958.2 223,938.9 226.3,921.6 229.7,911.9 233.1,903.9 236.4,901.9 239.8,903.1 243.2,908.4 246.5,916.7 249.9,929.1 253.2,944.1 256.6,964.8 260,982.1 263.3,1004.2 266.7,1027.1 270,1052.3 273.4,1078.5 276.8,1105.9 280.1,1146.7 283.5,1180.7 286.8,1208.6 290.2,1228.9 293.6,1246.8 296.9,1261.7 300.3,1273.4 303.6,1281.4 307,1286.2 310.4,1287.3 313.7,1285 317.1,1278.8 320.4,1270.5 323.8,1261.7 327.2,1252.2 330.5,1242 333.9,1231.6 337.3,1221.3 340.6,1212.5 344,1205 347.3,1198.8 350.7,1194.6 354.1,1192.3 357.4,1191.7 360.8,1193.6 364.1,1197.5 367.5,1203.2 370.9,1209.7 374.2,1216.9 377.6,1223.5 380.9,1229.9 384.3,1236.8 387.7,1242.2 391,1245.9 394.4,1249.5 397.7,1251.2 401.1,1252 404.5,1251.5 407.8,1250 411.2,1247.4 414.5,1243.6 417.9,1239.6 421.3,1236.1 424.6,1232.4 428,1229.1 431.3,1226.6 434.7,1224.9 438.1,1224.1 441.4,1223.9 444.8,1224.1 448.2,1225.4 451.5,1227.4 454.9,1230.5 458.2,1235.7 461.6,1240.3 465,1245.6 468.3,1251.1 471.7,1256.7 475,1262.3 478.4,1268.4 481.8,1274.2 485.1,1279.2 488.5,1285.3 491.8,1291.2 495.2,1296.9 498.6,1301.7 501.9,1306.1 505.3,1310.7 508.6,1315.4 512,1320.1 515.4,1324.2 518.7,1326.4 522.1,1328.3 525.4,1329.1 528.8,1329.5 532.2,1329.8 535.5,1330.2 538.9,1330.4 542.3,1330.6 545.6,1330.8 549,1331 552.3,1331.1 555.7,1331.2 559.1,1331.3 562.4,1331.3 565.8,1331.3 569.1,1331.3 572.5,1331.3 575.9,1331.4 579.2,1331.6 582.6,1331.9 585.9,1332.2 589.3,1332.5 592.7,1332.7 596,1333 599.4,1333.2 602.7,1333.4 606.1,1333.6 609.5,1333.6 612.8,1333.6 616.2,1333.6 619.5,1333.6 622.9,1333.6 626.3,1333.6 629.6,1333.6 633,1333.6 636.4,1333.6 639.7,1333.6 643.1,1333.6 646.4,1333.6 649.8,1333.6 653.2,1333.6 656.5,1333.6 659.9,1333.6 663.2,1333.6 666.6,1333.6 670,1333.6 673.3,1333.6 676.7,1333.6 680,1333.6 683.4,1333.6" fill="none" stroke="#0000ff" stroke-width="2.0" stroke-linejoin="round"/>
<g fill="url(#gb)">
<circle cx="85.2" cy="1333.6" r="3.0"/><circle cx="88.6" cy="1333.6" r="3.0"/><circle cx="91.9" cy="1333.6" r="3.0"/><circle cx="95.3" cy="1333.6" r="3.0"/><circle cx="98.6" cy="1333.6" r="3.0"/><circle cx="102" cy="1333.6" r="3.0"/><circle cx="105.4" cy="1333.6" r="3.0"/><circle cx="108.7" cy="1333.6" r="3.0"/><circle cx="112.1" cy="1333.6" r="3.0"/><circle cx="115.4" cy="1333.6" r="3.0"/><circle cx="118.8" cy="1333.6" r="3.0"/><circle cx="122.2" cy="1333.6" r="3.0"/><circle cx="125.5" cy="1333.6" r="3.0"/><circle cx="128.9" cy="1333.6" r="3.0"/><circle cx="132.2" cy="1333.6" r="3.0"/><circle cx="135.6" cy="1333.6" r="3.0"/><circle cx="139" cy="1333.6" r="3.0"/><circle cx="142.3" cy="1333.6" r="3.0"/><circle cx="145.7" cy="1333.6" r="3.0"/><circle cx="149.1" cy="1333.6" r="3.0"/><circle cx="152.4" cy="1333.6" r="3.0"/><circle cx="155.8" cy="1333.6" r="3.0"/><circle cx="159.1" cy="1333.6" r="3.0"/><circle cx="162.5" cy="1333.6" r="3.0"/><circle cx="165.9" cy="1333.6" r="3.0"/><circle cx="169.2" cy="1333.6" r="3.0"/><circle cx="172.6" cy="1333.6" r="3.0"/><circle cx="175.9" cy="1333.6" r="3.0"/><circle cx="179.3" cy="1333.6" r="3.0"/><circle cx="182.7" cy="1333.6" r="3.0"/><circle cx="186" cy="1333.6" r="3.0"/><circle cx="189.4" cy="1317.4" r="3.0"/><circle cx="192.7" cy="1270.3" r="3.0"/><circle cx="196.1" cy="1223" r="3.0"/><circle cx="199.5" cy="1177.4" r="3.0"/><circle cx="202.8" cy="1134.7" r="3.0"/><circle cx="206.2" cy="1088.8" r="3.0"/><circle cx="209.5" cy="1045.9" r="3.0"/><circle cx="212.9" cy="1012" r="3.0"/><circle cx="216.3" cy="982.2" r="3.0"/><circle cx="219.6" cy="958.2" r="3.0"/><circle cx="223" cy="938.9" r="3.0"/><circle cx="226.3" cy="921.6" r="3.0"/><circle cx="229.7" cy="911.9" r="3.0"/><circle cx="233.1" cy="903.9" r="3.0"/><circle cx="236.4" cy="901.9" r="3.0"/><circle cx="239.8" cy="903.1" r="3.0"/><circle cx="243.2" cy="908.4" r="3.0"/><circle cx="246.5" cy="916.7" r="3.0"/><circle cx="249.9" cy="929.1" r="3.0"/><circle cx="253.2" cy="944.1" r="3.0"/><circle cx="256.6" cy="964.8" r="3.0"/><circle cx="260" cy="982.1" r="3.0"/><circle cx="263.3" cy="1004.2" r="3.0"/><circle cx="266.7" cy="1027.1" r="3.0"/><circle cx="270" cy="1052.3" r="3.0"/><circle cx="273.4" cy="1078.5" r="3.0"/><circle cx="276.8" cy="1105.9" r="3.0"/><circle cx="280.1" cy="1146.7" r="3.0"/><circle cx="283.5" cy="1180.7" r="3.0"/><circle cx="286.8" cy="1208.6" r="3.0"/><circle cx="290.2" cy="1228.9" r="3.0"/><circle cx="293.6" cy="1246.8" r="3.0"/><circle cx="296.9" cy="1261.7" r="3.0"/><circle cx="300.3" cy="1273.4" r="3.0"/><circle cx="303.6" cy="1281.4" r="3.0"/><circle cx="307" cy="1286.2" r="3.0"/><circle cx="310.4" cy="1287.3" r="3.0"/><circle cx="313.7" cy="1285" r="3.0"/><circle cx="317.1" cy="1278.8" r="3.0"/><circle cx="320.4" cy="1270.5" r="3.0"/><circle cx="323.8" cy="1261.7" r="3.0"/><circle cx="327.2" cy="1252.2" r="3.0"/><circle cx="330.5" cy="1242" r="3.0"/><circle cx="333.9" cy="1231.6" r="3.0"/><circle cx="337.3" cy="1221.3" r="3.0"/><circle cx="340.6" cy="1212.5" r="3.0"/><circle cx="344" cy="1205" r="3.0"/><circle cx="347.3" cy="1198.8" r="3.0"/><circle cx="350.7" cy="1194.6" r="3.0"/><circle cx="354.1" cy="1192.3" r="3.0"/><circle cx="357.4" cy="1191.7" r="3.0"/><circle cx="360.8" cy="1193.6" r="3.0"/><circle cx="364.1" cy="1197.5" r="3.0"/><circle cx="367.5" cy="1203.2" r="3.0"/><circle cx="370.9" cy="1209.7" r="3.0"/><circle cx="374.2" cy="1216.9" r="3.0"/><circle cx="377.6" cy="1223.5" r="3.0"/><circle cx="380.9" cy="1229.9" r="3.0"/><circle cx="384.3" cy="1236.8" r="3.0"/><circle cx="387.7" cy="1242.2" r="3.0"/><circle cx="391" cy="1245.9" r="3.0"/><circle cx="394.4" cy="1249.5" r="3.0"/><circle cx="397.7" cy="1251.2" r="3.0"/><circle cx="401.1" cy="1252" r="3.0"/><circle cx="404.5" cy="1251.5" r="3.0"/><circle cx="407.8" cy="1250" r="3.0"/><circle cx="411.2" cy="1247.4" r="3.0"/><circle cx="414.5" cy="1243.6" r="3.0"/><circle cx="417.9" cy="1239.6" r="3.0"/><circle cx="421.3" cy="1236.1" r="3.0"/><circle cx="424.6" cy="1232.4" r="3.0"/><circle cx="428" cy="1229.1" r="3.0"/><circle cx="431.3" cy="1226.6" r="3.0"/><circle cx="434.7" cy="1224.9" r="3.0"/><circle cx="438.1" cy="1224.1" r="3.0"/><circle cx="441.4" cy="1223.9" r="3.0"/><circle cx="444.8" cy="1224.1" r="3.0"/><circle cx="448.2" cy="1225.4" r="3.0"/><circle cx="451.5" cy="1227.4" r="3.0"/><circle cx="454.9" cy="1230.5" r="3.0"/><circle cx="458.2" cy="1235.7" r="3.0"/><circle cx="461.6" cy="1240.3" r="3.0"/><circle cx="465" cy="1245.6" r="3.0"/><circle cx="468.3" cy="1251.1" r="3.0"/><circle cx="471.7" cy="1256.7" r="3.0"/><circle cx="475" cy="1262.3" r="3.0"/><circle cx="478.4" cy="1268.4" r="3.0"/><circle cx="481.8" cy="1274.2" r="3.0"/><circle cx="485.1" cy="1279.2" r="3.0"/><circle cx="488.5" cy="1285.3" r="3.0"/><circle cx="491.8" cy="1291.2" r="3.0"/><circle cx="495.2" cy="1296.9" r="3.0"/><circle cx="498.6" cy="1301.7" r="3.0"/><circle cx="501.9" cy="1306.1" r="3.0"/><circle cx="505.3" cy="1310.7" r="3.0"/><circle cx="508.6" cy="1315.4" r="3.0"/><circle cx="512" cy="1320.1" r="3.0"/><circle cx="515.4" cy="1324.2" r="3.0"/><circle cx="518.7" cy="1326.4" r="3.0"/><circle cx="522.1" cy="1328.3" r="3.0"/><circle cx="525.4" cy="1329.1" r="3.0"/><circle cx="528.8" cy="1329.5" r="3.0"/><circle cx="532.2" cy="1329.8" r="3.0"/><circle cx="535.5" cy="1330.2" r="3.0"/><circle cx="538.9" cy="1330.4" r="3.0"/><circle cx="542.3" cy="1330.6" r="3.0"/><circle cx="545.6" cy="1330.8" r="3.0"/><circle cx="549" cy="1331" r="3.0"/><circle cx="552.3" cy="1331.1" r="3.0"/><circle cx="555.7" cy="1331.2" r="3.0"/><circle cx="559.1" cy="1331.3" r="3.0"/><circle cx="562.4" cy="1331.3" r="3.0"/><circle cx="565.8" cy="1331.3" r="3.0"/><circle cx="569.1" cy="1331.3" r="3.0"/><circle cx="572.5" cy="1331.3" r="3.0"/><circle cx="575.9" cy="1331.4" r="3.0"/><circle cx="579.2" cy="1331.6" r="3.0"/><circle cx="582.6" cy="1331.9" r="3.0"/><circle cx="585.9" cy="1332.2" r="3.0"/><circle cx="589.3" cy="1332.5" r="3.0"/><circle cx="592.7" cy="1332.7" r="3.0"/><circle cx="596" cy="1333" r="3.0"/><circle cx="599.4" cy="1333.2" r="3.0"/><circle cx="602.7" cy="1333.4" r="3.0"/><circle cx="606.1" cy="1333.6" r="3.0"/><circle cx="609.5" cy="1333.6" r="3.0"/><circle cx="612.8" cy="1333.6" r="3.0"/><circle cx="616.2" cy="1333.6" r="3.0"/><circle cx="619.5" cy="1333.6" r="3.0"/><circle cx="622.9" cy="1333.6" r="3.0"/><circle cx="626.3" cy="1333.6" r="3.0"/><circle cx="629.6" cy="1333.6" r="3.0"/><circle cx="633" cy="1333.6" r="3.0"/><circle cx="636.4" cy="1333.6" r="3.0"/><circle cx="639.7" cy="1333.6" r="3.0"/><circle cx="643.1" cy="1333.6" r="3.0"/><circle cx="646.4" cy="1333.6" r="3.0"/><circle cx="649.8" cy="1333.6" r="3.0"/><circle cx="653.2" cy="1333.6" r="3.0"/><circle cx="656.5" cy="1333.6" r="3.0"/><circle cx="659.9" cy="1333.6" r="3.0"/><circle cx="663.2" cy="1333.6" r="3.0"/><circle cx="666.6" cy="1333.6" r="3.0"/><circle cx="670" cy="1333.6" r="3.0"/><circle cx="673.3" cy="1333.6" r="3.0"/><circle cx="676.7" cy="1333.6" r="3.0"/><circle cx="680" cy="1333.6" r="3.0"/><circle cx="683.4" cy="1333.6" r="3.0"/>
</g>
<polygon points="85.2,1334.2 85.2,1333.6 88.6,1333.6 91.9,1333.6 95.3,1333.6 98.6,1333.6 102,1333.6 105.4,1333.6 108.7,1333.6 112.1,1333.6 115.4,1333.6 118.8,1333.6 122.2,1333.6 125.5,1333.6 128.9,1333.6 132.2,1333.6 135.6,1333.6 139,1333.6 142.3,1333.6 145.7,1333.6 149.1,1333.6 152.4,1333.6 155.8,1333.6 159.1,1333.6 162.5,1333.6 165.9,1333.6 169.2,1333.6 172.6,1333.6 175.9,1333.6 179.3,1333.6 182.7,1333.6 186,1333.6 189.4,1333.6 192.7,1333.6 196.1,1297.6 199.5,1240.7 202.8,1189.9 206.2,1140.7 209.5,1094.4 212.9,1052.9 216.3,1017.4 219.6,985.2 223,962.2 226.3,941.5 229.7,927.8 233.1,917.7 236.4,914.1 239.8,916.4 243.2,922.2 246.5,932.6 249.9,946.6 253.2,964.9 256.6,984.1 260,1005.7 263.3,1027.9 266.7,1052.1 270,1076.9 273.4,1102.8 276.8,1127.1 280.1,1150.4 283.5,1173.3 286.8,1194.3 290.2,1214.7 293.6,1232 296.9,1245.5 300.3,1257.3 303.6,1266.1 307,1271.5 310.4,1274.2 313.7,1274.4 317.1,1272.4 320.4,1268.5 323.8,1263.4 327.2,1256.7 330.5,1249.5 333.9,1242.3 337.3,1235.1 340.6,1228.2 344,1220.9 347.3,1214.3 350.7,1208.3 354.1,1202.9 357.4,1198.5 360.8,1195.5 364.1,1193.6 367.5,1192.4 370.9,1192.1 374.2,1192.3 377.6,1193.6 380.9,1195.7 384.3,1198.5 387.7,1201.7 391,1205.4 394.4,1209.6 397.7,1214.3 401.1,1219.4 404.5,1224.6 407.8,1229.7 411.2,1234.5 414.5,1238.9 417.9,1243.2 421.3,1246 424.6,1247.6 428,1248.3 431.3,1248.4 434.7,1247.7 438.1,1245.5 441.4,1242.3 444.8,1239.2 448.2,1236.3 451.5,1233.4 454.9,1230.8 458.2,1229.1 461.6,1228 465,1228.2 468.3,1229.7 471.7,1232.5 475,1236.7 478.4,1242.8 481.8,1249.4 485.1,1257.2 488.5,1266.3 491.8,1275.3 495.2,1283.3 498.6,1291.8 501.9,1302 505.3,1313.1 508.6,1323.2 512,1331.5 515.4,1333.6 518.7,1333.6 522.1,1333.6 525.4,1333.6 528.8,1333.6 532.2,1333.6 535.5,1333.6 538.9,1333.6 542.3,1333.6 545.6,1333.6 549,1333.6 552.3,1333.6 555.7,1333.6 559.1,1333.6 562.4,1333.6 565.8,1333.6 569.1,1332.6 572.5,1331.3 575.9,1329.9 579.2,1328.4 582.6,1327.1 585.9,1326.3 589.3,1325.8 592.7,1325.5 596,1325.5 599.4,1325.7 602.7,1326.1 606.1,1326.6 609.5,1327.3 612.8,1328.2 616.2,1329.1 619.5,1330.2 622.9,1331.2 626.3,1332.1 629.6,1333.6 633,1333.6 636.4,1333.6 639.7,1333.6 643.1,1333.6 646.4,1333.6 649.8,1333.6 653.2,1333.6 656.5,1333.6 659.9,1333.6 663.2,1333.6 666.6,1333.6 670,1333.6 673.3,1333.6 676.7,1333.6 680,1333.6 683.4,1333.6 683.4,1334.2" fill="#00ff00" fill-opacity="0.5"/>
<polyline points="85.2,1333.6 88.6,1333.6 91.9,1333.6 95.3,1333.6 98.6,1333.6 102,1333.6 105.4,1333.6 108.7,1333.6 112.1,1333.6 115.4,1333.6 118.8,1333.6 122.2,1333.6 125.5,1333.6 128.9,1333.6 132.2,1333.6 135.6,1333.6 139,1333.6 142.3,1333.6 145.7,1333.6 149.1,1333.6 152.4,1333.6 155.8,1333.6 159.1,1333.6 162.5,1333.6 165.9,1333.6 169.2,1333.6 172.6,1333.6 175.9,1333.6 179.3,1333.6 182.7,1333.6 186,1333.6 189.4,1333.6 192.7,1333.6 196.1,1297.6 199.5,1240.7 202.8,1189.9 206.2,1140.7 209.5,1094.4 212.9,1052.9 216.3,1017.4 219.6,985.2 223,962.2 226.3,941.5 229.7,927.8 233.1,917.7 236.4,914.1 239.8,916.4 243.2,922.2 246.5,932.6 249.9,946.6 253.2,964.9 256.6,984.1 260,1005.7 263.3,1027.9 266.7,1052.1 270,1076.9 273.4,1102.8 276.8,1127.1 280.1,1150.4 283.5,1173.3 286.8,1194.3 290.2,1214.7 293.6,1232 296.9,1245.5 300.3,1257.3 303.6,1266.1 307,1271.5 310.4,1274.2 313.7,1274.4 317.1,1272.4 320.4,1268.5 323.8,1263.4 327.2,1256.7 330.5,1249.5 333.9,1242.3 337.3,1235.1 340.6,1228.2 344,1220.9 347.3,1214.3 350.7,1208.3 354.1,1202.9 357.4,1198.5 360.8,1195.5 364.1,1193.6 367.5,1192.4 370.9,1192.1 374.2,1192.3 377.6,1193.6 380.9,1195.7 384.3,1198.5 387.7,1201.7 391,1205.4 394.4,1209.6 397.7,1214.3 401.1,1219.4 404.5,1224.6 407.8,1229.7 411.2,1234.5 414.5,1238.9 417.9,1243.2 421.3,1246 424.6,1247.6 428,1248.3 431.3,1248.4 434.7,1247.7 438.1,1245.5 441.4,1242.3 444.8,1239.2 448.2,1236.3 451.5,1233.4 454.9,1230.8 458.2,1229.1 461.6,1228 465,1228.2 468.3,1229.7 471.7,1232.5 475,1236.7 478.4,1242.8 481.8,1249.4 485.1,1257.2 488.5,1266.3 491.8,1275.3 495.2,1283.3 498.6,1291.8 501.9,1302 505.3,1313.1 508.6,1323.2 512,1331.5 515.4,1333.6 518.7,1333.6 522.1,1333.6 525.4,1333.6 528.8,1333.6 532.2,1333.6 535.5,1333.6 538.9,1333.6 542.3,1333.6 545.6,1333.6 549,1333.6 552.3,1333.6 555.7,1333.6 559.1,1333.6 562.4,1333.6 565.8,1333.6 569.1,1332.6 572.5,1331.3 575.9,1329.9 579.2,1328.4 582.6,1327.1 585.9,1326.3 589.3,1325.8 592.7,1325.5 596,1325.5 599.4,1325.7 602.7,1326.1 606.1,1326.6 609.5,1327.3 612.8,1328.2 616.2,1329.1 619.5,1330.2 622.9,1331.2 626.3,1332.1 629.6,1333.6 633,1333.6 636.4,1333.6 639.7,1333.6 643.1,1333.6 646.4,1333.6 649.8,1333.6 653.2,1333.6 656.5,1333.6 659.9,1333.6 663.2,1333.6 666.6,1333.6 670,1333.6 673.3,1333.6 676.7,1333.6 680,1333.6 683.4,1333.6" fill="none" stroke="#00ff00" stroke-width="2.0" stroke-linejoin="round"/>
<g fill="url(#gg)">
<circle cx="85.2" cy="1333.6" r="3.4"/><circle cx="88.6" cy="1333.6" r="3.4"/><circle cx="91.9" cy="1333.6" r="3.4"/><circle cx="95.3" cy="1333.6" r="3.4"/><circle cx="98.6" cy="1333.6" r="3.4"/><circle cx="102" cy="1333.6" r="3.4"/><circle cx="105.4" cy="1333.6" r="3.4"/><circle cx="108.7" cy="1333.6" r="3.4"/><circle cx="112.1" cy="1333.6" r="3.4"/><circle cx="115.4" cy="1333.6" r="3.4"/><circle cx="118.8" cy="1333.6" r="3.4"/><circle cx="122.2" cy="1333.6" r="3.4"/><circle cx="125.5" cy="1333.6" r="3.4"/><circle cx="128.9" cy="1333.6" r="3.4"/><circle cx="132.2" cy="1333.6" r="3.4"/><circle cx="135.6" cy="1333.6" r="3.4"/><circle cx="139" cy="1333.6" r="3.4"/><circle cx="142.3" cy="1333.6" r="3.4"/><circle cx="145.7" cy="1333.6" r="3.4"/><circle cx="149.1" cy="1333.6" r="3.4"/><circle cx="152.4" cy="1333.6" r="3.4"/><circle cx="155.8" cy="1333.6" r="3.4"/><circle cx="159.1" cy="1333.6" r="3.4"/><circle cx="162.5" cy="1333.6" r="3.4"/><circle cx="165.9" cy="1333.6" r="3.4"/><circle cx="169.2" cy="1333.6" r="3.4"/><circle cx="172.6" cy="1333.6" r="3.4"/><circle cx="175.9" cy="1333.6" r="3.4"/><circle cx="179.3" cy="1333.6" r="3.4"/><circle cx="182.7" cy="1333.6" r="3.4"/><circle cx="186" cy="1333.6" r="3.4"/><circle cx="189.4" cy="1333.6" r="3.4"/><circle cx="192.7" cy="1333.6" r="3.4"/><circle cx="196.1" cy="1297.6" r="3.4"/><circle cx="199.5" cy="1240.7" r="3.4"/><circle cx="202.8" cy="1189.9" r="3.4"/><circle cx="206.2" cy="1140.7" r="3.4"/><circle cx="209.5" cy="1094.4" r="3.4"/><circle cx="212.9" cy="1052.9" r="3.4"/><circle cx="216.3" cy="1017.4" r="3.4"/><circle cx="219.6" cy="985.2" r="3.4"/><circle cx="223" cy="962.2" r="3.4"/><circle cx="226.3" cy="941.5" r="3.4"/><circle cx="229.7" cy="927.8" r="3.4"/><circle cx="233.1" cy="917.7" r="3.4"/><circle cx="236.4" cy="914.1" r="3.4"/><circle cx="239.8" cy="916.4" r="3.4"/><circle cx="243.2" cy="922.2" r="3.4"/><circle cx="246.5" cy="932.6" r="3.4"/><circle cx="249.9" cy="946.6" r="3.4"/><circle cx="253.2" cy="964.9" r="3.4"/><circle cx="256.6" cy="984.1" r="3.4"/><circle cx="260" cy="1005.7" r="3.4"/><circle cx="263.3" cy="1027.9" r="3.4"/><circle cx="266.7" cy="1052.1" r="3.4"/><circle cx="270" cy="1076.9" r="3.4"/><circle cx="273.4" cy="1102.8" r="3.4"/><circle cx="276.8" cy="1127.1" r="3.4"/><circle cx="280.1" cy="1150.4" r="3.4"/><circle cx="283.5" cy="1173.3" r="3.4"/><circle cx="286.8" cy="1194.3" r="3.4"/><circle cx="290.2" cy="1214.7" r="3.4"/><circle cx="293.6" cy="1232" r="3.4"/><circle cx="296.9" cy="1245.5" r="3.4"/><circle cx="300.3" cy="1257.3" r="3.4"/><circle cx="303.6" cy="1266.1" r="3.4"/><circle cx="307" cy="1271.5" r="3.4"/><circle cx="310.4" cy="1274.2" r="3.4"/><circle cx="313.7" cy="1274.4" r="3.4"/><circle cx="317.1" cy="1272.4" r="3.4"/><circle cx="320.4" cy="1268.5" r="3.4"/><circle cx="323.8" cy="1263.4" r="3.4"/><circle cx="327.2" cy="1256.7" r="3.4"/><circle cx="330.5" cy="1249.5" r="3.4"/><circle cx="333.9" cy="1242.3" r="3.4"/><circle cx="337.3" cy="1235.1" r="3.4"/><circle cx="340.6" cy="1228.2" r="3.4"/><circle cx="344" cy="1220.9" r="3.4"/><circle cx="347.3" cy="1214.3" r="3.4"/><circle cx="350.7" cy="1208.3" r="3.4"/><circle cx="354.1" cy="1202.9" r="3.4"/><circle cx="357.4" cy="1198.5" r="3.4"/><circle cx="360.8" cy="1195.5" r="3.4"/><circle cx="364.1" cy="1193.6" r="3.4"/><circle cx="367.5" cy="1192.4" r="3.4"/><circle cx="370.9" cy="1192.1" r="3.4"/><circle cx="374.2" cy="1192.3" r="3.4"/><circle cx="377.6" cy="1193.6" r="3.4"/><circle cx="380.9" cy="1195.7" r="3.4"/><circle cx="384.3" cy="1198.5" r="3.4"/><circle cx="387.7" cy="1201.7" r="3.4"/><circle cx="391" cy="1205.4" r="3.4"/><circle cx="394.4" cy="1209.6" r="3.4"/><circle cx="397.7" cy="1214.3" r="3.4"/><circle cx="401.1" cy="1219.4" r="3.4"/><circle cx="404.5" cy="1224.6" r="3.4"/><circle cx="407.8" cy="1229.7" r="3.4"/><circle cx="411.2" cy="1234.5" r="3.4"/><circle cx="414.5" cy="1238.9" r="3.4"/><circle cx="417.9" cy="1243.2" r="3.4"/><circle cx="421.3" cy="1246" r="3.4"/><circle cx="424.6" cy="1247.6" r="3.4"/><circle cx="428" cy="1248.3" r="3.4"/><circle cx="431.3" cy="1248.4" r="3.4"/><circle cx="434.7" cy="1247.7" r="3.4"/><circle cx="438.1" cy="1245.5" r="3.4"/><circle cx="441.4" cy="1242.3" r="3.4"/><circle cx="444.8" cy="1239.2" r="3.4"/><circle cx="448.2" cy="1236.3" r="3.4"/><circle cx="451.5" cy="1233.4" r="3.4"/><circle cx="454.9" cy="1230.8" r="3.4"/><circle cx="458.2" cy="1229.1" r="3.4"/><circle cx="461.6" cy="1228" r="3.4"/><circle cx="465" cy="1228.2" r="3.4"/><circle cx="468.3" cy="1229.7" r="3.4"/><circle cx="471.7" cy="1232.5" r="3.4"/><circle cx="475" cy="1236.7" r="3.4"/><circle cx="478.4" cy="1242.8" r="3.4"/><circle cx="481.8" cy="1249.4" r="3.4"/><circle cx="485.1" cy="1257.2" r="3.4"/><circle cx="488.5" cy="1266.3" r="3.4"/><circle cx="491.8" cy="1275.3" r="3.4"/><circle cx="495.2" cy="1283.3" r="3.4"/><circle cx="498.6" cy="1291.8" r="3.4"/><circle cx="501.9" cy="1302" r="3.4"/><circle cx="505.3" cy="1313.1" r="3.4"/><circle cx="508.6" cy="1323.2" r="3.4"/><circle cx="512" cy="1331.5" r="3.4"/><circle cx="515.4" cy="1333.6" r="3.4"/><circle cx="518.7" cy="1333.6" r="3.4"/><circle cx="522.1" cy="1333.6" r="3.4"/><circle cx="525.4" cy="1333.6" r="3.4"/><circle cx="528.8" cy="1333.6" r="3.4"/><circle cx="532.2" cy="1333.6" r="3.4"/><circle cx="535.5" cy="1333.6" r="3.4"/><circle cx="538.9" cy="1333.6" r="3.4"/><circle cx="542.3" cy="1333.6" r="3.4"/><circle cx="545.6" cy="1333.6" r="3.4"/><circle cx="549" cy="1333.6" r="3.4"/><circle cx="552.3" cy="1333.6" r="3.4"/><circle cx="555.7" cy="1333.6" r="3.4"/><circle cx="559.1" cy="1333.6" r="3.4"/><circle cx="562.4" cy="1333.6" r="3.4"/><circle cx="565.8" cy="1333.6" r="3.4"/><circle cx="569.1" cy="1332.6" r="3.4"/><circle cx="572.5" cy="1331.3" r="3.4"/><circle cx="575.9" cy="1329.9" r="3.4"/><circle cx="579.2" cy="1328.4" r="3.4"/><circle cx="582.6" cy="1327.1" r="3.4"/><circle cx="585.9" cy="1326.3" r="3.4"/><circle cx="589.3" cy="1325.8" r="3.4"/><circle cx="592.7" cy="1325.5" r="3.4"/><circle cx="596" cy="1325.5" r="3.4"/><circle cx="599.4" cy="1325.7" r="3.4"/><circle cx="602.7" cy="1326.1" r="3.4"/><circle cx="606.1" cy="1326.6" r="3.4"/><circle cx="609.5" cy="1327.3" r="3.4"/><circle cx="612.8" cy="1328.2" r="3.4"/><circle cx="616.2" cy="1329.1" r="3.4"/><circle cx="619.5" cy="1330.2" r="3.4"/><circle cx="622.9" cy="1331.2" r="3.4"/><circle cx="626.3" cy="1332.1" r="3.4"/><circle cx="629.6" cy="1333.6" r="3.4"/><circle cx="633" cy="1333.6" r="3.4"/><circle cx="636.4" cy="1333.6" r="3.4"/><circle cx="639.7" cy="1333.6" r="3.4"/><circle cx="643.1" cy="1333.6" r="3.4"/><circle cx="646.4" cy="1333.6" r="3.4"/><circle cx="649.8" cy="1333.6" r="3.4"/><circle cx="653.2" cy="1333.6" r="3.4"/><circle cx="656.5" cy="1333.6" r="3.4"/><circle cx="659.9" cy="1333.6" r="3.4"/><circle cx="663.2" cy="1333.6" r="3.4"/><circle cx="666.6" cy="1333.6" r="3.4"/><circle cx="670" cy="1333.6" r="3.4"/><circle cx="673.3" cy="1333.6" r="3.4"/><circle cx="676.7" cy="1333.6" r="3.4"/><circle cx="680" cy="1333.6" r="3.4"/><circle cx="683.4" cy="1333.6" r="3.4"/>
</g>
</g>
<path d="M100.2 852.9 H146.4" stroke="#0000ff" stroke-width="2.0"/>
<circle cx="123.2" cy="852.9" r="3.0999999999999996" fill="url(#gb)"/>
<text x="150.7" y="859.3" font-family="Liberation Serif, serif" font-size="19.5">N = 0</text>
<path d="M100.2 877.5 H146.4" stroke="#00ff00" stroke-width="2.0"/>
<circle cx="123.2" cy="877.5" r="3.5" fill="url(#gg)"/>
<text x="150.7" y="883.9" font-family="Liberation Serif, serif" font-size="19.5">N = 50</text>
<rect x="359.8" y="841.2" width="34.6" height="16.9" fill="#adeb2d" stroke="#000" stroke-width="1.05"/>
<text x="403.0" y="854.5" font-family="Liberation Serif, serif" font-size="15.65">Macropores</text>
<rect x="359.8" y="860.8" width="34.6" height="16.9" fill="#00c000" stroke="#000" stroke-width="1.05"/>
<text x="403.0" y="874.1" font-family="Liberation Serif, serif" font-size="15.65">Mesopores</text>
<rect x="359.8" y="880.4" width="34.6" height="16.9" fill="#2b6aad" stroke="#000" stroke-width="1.05"/>
<text x="403.0" y="893.7" font-family="Liberation Serif, serif" font-size="15.65">Micropores</text>
<rect x="512.3" y="986.47" width="44.4" height="244.13" fill="#2b6aad" stroke="#000" stroke-width="0.8"/>
<rect x="512.3" y="896.35" width="44.4" height="90.12" fill="#00c000" stroke="#000" stroke-width="0.8"/>
<rect x="512.3" y="841.30" width="44.4" height="55.05" fill="#adeb2d" stroke="#000" stroke-width="0.8"/>
<rect x="567.1" y="999.08" width="44.7" height="231.52" fill="#2b6aad" stroke="#000" stroke-width="0.8"/>
<rect x="567.1" y="899.58" width="44.7" height="99.51" fill="#00c000" stroke="#000" stroke-width="0.8"/>
<rect x="567.1" y="841.30" width="44.7" height="58.28" fill="#adeb2d" stroke="#000" stroke-width="0.8"/>
<path d="M556.7 986.47 L567.1 999.08" stroke="#000" stroke-width="0.8" fill="none"/>
<path d="M556.7 896.35 L567.1 899.58" stroke="#000" stroke-width="0.8" fill="none"/>
<path d="M556.7 841.30 L567.1 841.30" stroke="#000" stroke-width="0.8" fill="none"/>
<g font-family="Liberation Sans, sans-serif" font-size="18" fill="#fff" text-anchor="middle">
<text x="534.2" y="1117.2" textLength="42" lengthAdjust="spacingAndGlyphs">62.71</text>
<text x="534.2" y="952.8" textLength="42" lengthAdjust="spacingAndGlyphs">23.15</text>
<text x="534.2" y="879.5" textLength="42" lengthAdjust="spacingAndGlyphs">13.93</text>
<text x="589.2" y="1116.3" textLength="42" lengthAdjust="spacingAndGlyphs">59.47</text>
<text x="589.2" y="951.7" textLength="42" lengthAdjust="spacingAndGlyphs">25.56</text>
<text x="589.2" y="878.7" textLength="42" lengthAdjust="spacingAndGlyphs">14.37</text>
</g>
<g stroke="#000" stroke-width="1.9" fill="none">
<path d="M625.1 841.6h-4.4" stroke-width="1.1"/>
<path d="M625.1 841.1 V1231.5M625.1 1230.60h-4.4M625.1 1191.67h-2.4M625.1 1152.74h-4.4M625.1 1113.81h-2.4M625.1 1074.88h-4.4M625.1 1035.95h-2.4M625.1 997.02h-4.4M625.1 958.09h-2.4M625.1 919.16h-4.4M625.1 880.23h-2.4"/>
</g>
<g font-family="Liberation Serif, serif" font-size="18.5" fill="#000">
<text x="634" y="1235.2">0</text>
<text x="634" y="1157.3">20</text>
<text x="634" y="1079.5">40</text>
<text x="634" y="1001.6">60</text>
<text x="634" y="923.8">80</text>
<text x="634" y="845.9">100</text>
</g>
<g font-family="Liberation Serif, serif" font-size="18.5" fill="#000" text-anchor="middle">
<text x="534.5" y="1249.2">0</text>
<text x="589.5" y="1249.2">50</text>
</g>
<text x="579.4" y="1271.1" font-family="Liberation Serif, serif" font-size="18.75" text-anchor="middle">Number of cycles</text>
<text transform="translate(676 1021.8) rotate(-90)" font-family="Liberation Serif, serif" font-size="18.95" text-anchor="middle">Cumulative pore volume ratio (%)</text>
<text x="175.3" y="1465.7" font-family="Liberation Serif, serif" font-size="36.7" fill="#000">(b) 40.38mg/L Na<tspan font-size="20.5" dy="3.8">2</tspan><tspan dy="-3.8">SO</tspan><tspan font-size="20.5" dy="3.8">4</tspan></text>

</svg></body></html>
